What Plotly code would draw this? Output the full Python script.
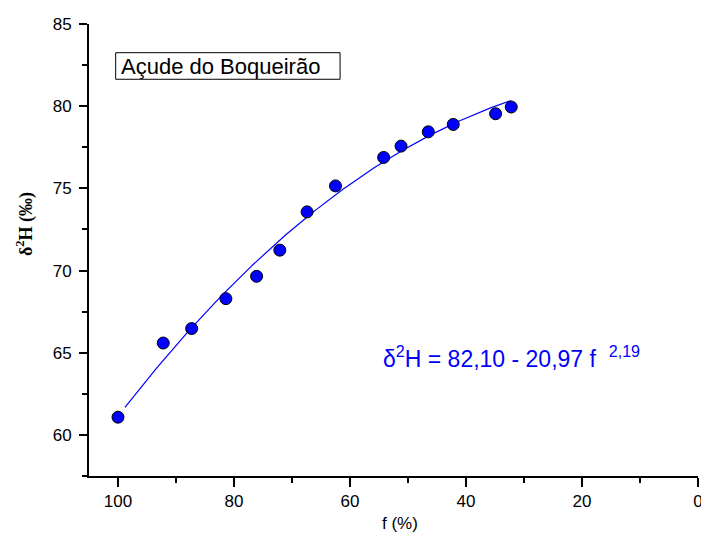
import numpy as np
import plotly.graph_objects as go

# Data
f_pct = [100.0, 92.2, 87.3, 81.4, 76.1, 72.1, 67.4, 62.5, 54.2, 51.2, 46.5, 42.2, 34.9, 32.2]
d2H = [61.08, 65.59, 66.47, 68.29, 69.65, 71.24, 73.57, 75.15, 76.88, 77.57, 78.44, 78.89, 79.54, 79.95]

# Fit parameters shown on the chart: d2H = A - B * f^C  (f as fraction)
fit_A = 82.10
fit_B = 20.97
fit_C = 2.19
fit_f_start = 98.8
fit_f_end = 32.3

x_ticks = [0, 20, 40, 60, 80, 100]
y_ticks = [60, 65, 70, 75, 80, 85]

fit_x = np.linspace(fit_f_start, fit_f_end, 200)
fit_y = fit_A - fit_B * (fit_x / 100.0) ** fit_C

fig = go.Figure()
fig.add_trace(go.Scatter(
    x=fit_x, y=fit_y, mode="lines",
    line=dict(color="#0000ff", width=1.2),
    hoverinfo="skip", showlegend=False,
))
fig.add_trace(go.Scatter(
    x=f_pct, y=d2H, mode="markers",
    marker=dict(size=12, color="#0000ff", line=dict(color="black", width=1)),
    showlegend=False,
))

tick_font = dict(family="Liberation Sans, Arial, sans-serif", size=17, color="black")

fig.update_layout(
    width=701, height=533,
    margin=dict(l=89, r=2.5, t=24, b=57),
    paper_bgcolor="white", plot_bgcolor="white",
    xaxis=dict(
        range=[105, 0], tickvals=x_ticks, ticks="outside", ticklen=9, tickwidth=1.5,
        tickcolor="black", showline=True, linecolor="black", linewidth=1.8,
        showgrid=False, zeroline=False, tickfont=tick_font, ticklabeloverflow="allow",
        minor=dict(dtick=10, ticks="outside", ticklen=5, tickwidth=1.5, tickcolor="black", showgrid=False),
        automargin=False,
    ),
    yaxis=dict(
        range=[57.5, 85], tickvals=y_ticks, ticks="outside", ticklen=8, tickwidth=1.5,
        tickcolor="black", showline=True, linecolor="black", linewidth=1.8,
        showgrid=False, zeroline=False, tickfont=tick_font, ticklabelstandoff=4,
        ticklabeloverflow="allow",
        minor=dict(dtick=2.5, ticks="outside", ticklen=5, tickwidth=1.5, tickcolor="black", showgrid=False),
        automargin=False,
    ),
)

# Label box
fig.add_shape(type="rect", xref="paper", yref="paper",
              x0=0.0438, x1=0.4123, y0=0.8777, y1=0.9365,
              line=dict(color="black", width=1), fillcolor="rgba(0,0,0,0)")
fig.add_annotation(xref="paper", yref="paper", x=0.0497, y=0.907,
                   xanchor="left", yanchor="middle", showarrow=False,
                   text="Açude do Boqueirão",
                   font=dict(family="Liberation Sans, Arial, sans-serif", size=22, color="black"))

# Equation
fig.add_annotation(xref="paper", yref="paper", x=0.480, y=0.263,
                   xanchor="left", yanchor="middle", showarrow=False,
                   text="δ<sup>2</sup>H = 82,10 - 20,97 f&nbsp;&nbsp;<sup>2,19</sup>",
                   font=dict(family="Liberation Sans, Arial, sans-serif", size=23, color="#0000ff"))

# Axis titles
fig.add_annotation(xref="paper", yref="paper", x=0.51, y=-0.104,
                   xanchor="center", yanchor="middle", showarrow=False,
                   text="f (%)",
                   font=dict(family="Liberation Sans, Arial, sans-serif", size=17, color="black"))
fig.add_annotation(xref="paper", yref="paper", x=-0.105, y=0.5575,
                   xanchor="center", yanchor="middle", showarrow=False, textangle=-90,
                   text="<b>δ<sup>2</sup>H (‰)</b>",
                   font=dict(family="Liberation Serif, Times New Roman, serif", size=18, color="black"))

fig.write_html(
    "out.html",
    config={"displayModeBar": False},
    post_script="document.body.style.margin='0';document.body.style.overflow='hidden';",
)
